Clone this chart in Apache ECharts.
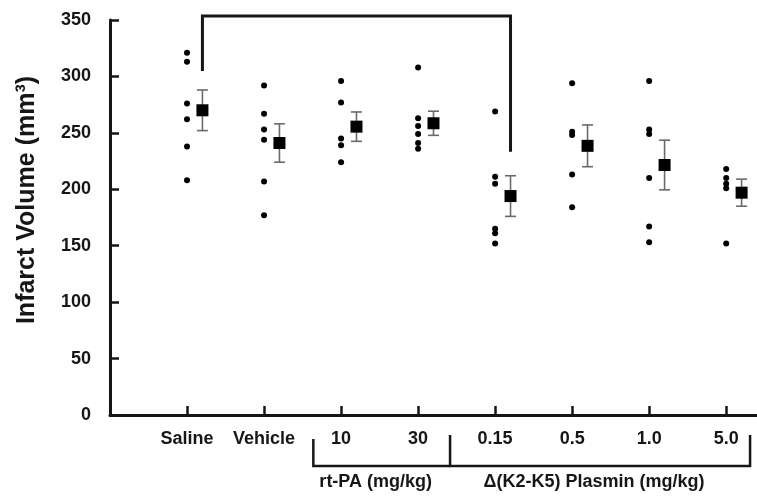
<!DOCTYPE html>
<html><head><meta charset="utf-8">
<script src="https://cdn.jsdelivr.net/npm/echarts@6/dist/echarts.min.js"></script>
<style>html,body{margin:0;padding:0;background:#fff}#c{width:757px;height:497px}</style>
</head><body><div id="c"></div>
<script>
// ---- data ----
const categories = ['Saline','Vehicle','10','30','0.15','0.5','1.0','5.0'];
const saline   = [321,313,276,262,238,208];
const vehicle  = [292,267,253,244,207,177];
const rtpa10   = [296,277,245,239,224];
const rtpa30   = [308,263,256,249,241,236];
const pl015    = [269,211,205,165,161,152];
const pl05     = [294,251,248,213,184];
const pl10     = [296,253,249,210,167,153];
const pl50     = [218,210,205,201,152];
const individual = [saline, vehicle, rtpa10, rtpa30, pl015, pl05, pl10, pl50];
const means = [270,241,255.5,258.5,194,238.5,221.5,197];
const sems  = [18,17,13,10.7,18,18.5,22,12];
const yTicks = [0,50,100,150,200,250,300,350];
const comparison = [0,4]; // Saline vs 0.15
const groupLabels = ['rt-PA (mg/kg)','Δ(K2-K5) Plasmin (mg/kg)'];
const groupMembers = [[2,3],[4,7]]; // first/last category index

// ---- layout/style constants ----
const MEAN_OFFSET = 0.2;
const FONT = '"Liberation Sans", Arial, sans-serif';
const INK = '#161616';
const groupPad = [[0.36,0.415],[0.585,0.31]];

const dotData = [];
individual.forEach((arr,i)=>arr.forEach(v=>dotData.push([i+1,v])));
const meanData = means.map((m,i)=>[i+1+MEAN_OFFSET,m]);
const errData = means.map((m,i)=>[i+1+MEAN_OFFSET,m,sems[i]]);

const chart = echarts.init(document.getElementById('c'));
chart.setOption({
  animation:false,
  backgroundColor:'#fff',
  grid:{left:110,right:0,top:20,bottom:82,containLabel:false,outerBoundsMode:'none'},
  xAxis:{
    type:'value',min:0,max:8.4,interval:1,
    axisLine:{show:true,lineStyle:{color:INK,width:3}},
    axisTick:{show:true,inside:true,length:9,lineStyle:{color:INK,width:2.5},customValues:[1,2,3,4,5,6,7,8]},
    axisLabel:{customValues:[1,2,3,4,5,6,7,8],formatter:v=>categories[Math.round(v)-1]||'',
      color:INK,fontFamily:FONT,fontWeight:'bold',fontSize:18,margin:15},
    splitLine:{show:false}
  },
  yAxis:{
    type:'value',min:yTicks[0],max:yTicks[yTicks.length-1],interval:50,
    axisLine:{show:true,lineStyle:{color:INK,width:3}},
    axisTick:{show:true,inside:true,length:9,lineStyle:{color:INK,width:2.5}},
    axisLabel:{color:INK,fontFamily:FONT,fontWeight:'bold',fontSize:18,margin:19},
    splitLine:{show:false}
  },
  graphic:[{
    type:'text',x:27,y:200,rotation:Math.PI/2,
    style:{text:'Infarct Volume (mm³)',font:'bold 25px '+FONT,fill:INK,textAlign:'center',textVerticalAlign:'middle'}
  }],
  series:[
    {
      type:'scatter',data:dotData,symbol:'circle',symbolSize:6,
      itemStyle:{color:'#000',opacity:1},z:3
    },
    {
      type:'custom',data:errData,z:2,
      renderItem:(params,api)=>{
        const x=api.value(0),m=api.value(1),s=api.value(2);
        const top=api.coord([x,m+s]),bot=api.coord([x,m-s]);
        const cw=5.5;
        const ls={stroke:'#6a6a6a',lineWidth:1.6};
        return {type:'group',children:[
          {type:'line',shape:{x1:top[0],y1:top[1],x2:bot[0],y2:bot[1]},style:ls},
          {type:'line',shape:{x1:top[0]-cw,y1:top[1],x2:top[0]+cw,y2:top[1]},style:ls},
          {type:'line',shape:{x1:bot[0]-cw,y1:bot[1],x2:bot[0]+cw,y2:bot[1]},style:ls}
        ]};
      }
    },
    {
      type:'scatter',data:meanData,symbol:'rect',symbolSize:12,
      itemStyle:{color:'#000',opacity:1},z:4
    },
    {
      type:'custom',data:[comparison],clip:false,z:5,
      renderItem:(params,api)=>{
        const a=api.value(0),b=api.value(1);
        const pa=api.coord([a+1+MEAN_OFFSET,means[a]+sems[a]]);
        const pb=api.coord([b+1+MEAN_OFFSET,means[b]+sems[b]]);
        const topY=api.coord([0,350])[1]-4;
        const ls={stroke:INK,lineWidth:3,fill:null};
        return {type:'polyline',shape:{points:[[pa[0],pa[1]-19],[pa[0],topY],[pb[0],topY],[pb[0],pb[1]-24]]},style:ls};
      }
    },
    {
      type:'custom',data:groupMembers.map((g,i)=>[g[0],g[1],i]),clip:false,z:5,
      renderItem:(params,api)=>{
        const f=api.value(0),l=api.value(1),gi=api.value(2);
        const x0=api.coord([f+1-groupPad[gi][0],0])[0];
        const x1=api.coord([l+1+groupPad[gi][1],0])[0];
        const y0=api.coord([0,0])[1];
        const ls={stroke:INK,lineWidth:2.5,fill:null};
        const pts = gi===0
          ? [[x0,y0+24],[x0,y0+51],[x1,y0+51]]
          : [[x0,y0+20],[x0,y0+51],[x1,y0+51],[x1,y0+20]];
        return {type:'group',children:[
          {type:'polyline',shape:{points:pts},style:ls},
          {type:'text',x:(x0+x1)/2-6,y:y0+67,style:{text:groupLabels[gi],font:'bold 18px '+FONT,fill:INK,textAlign:'center',textVerticalAlign:'middle'}}
        ]};
      }
    }
  ]
});
</script>
</body></html>
